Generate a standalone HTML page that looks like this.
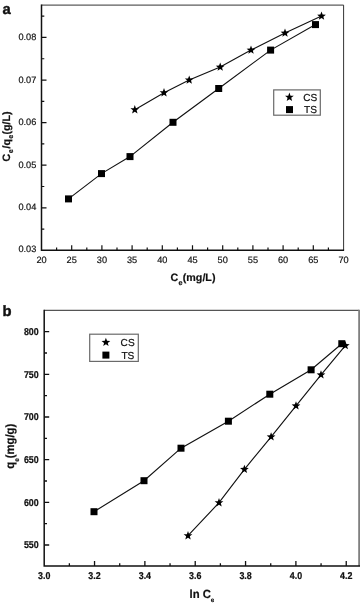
<!DOCTYPE html>
<html><head><meta charset="utf-8"><title>Figure</title>
<style>
html,body{margin:0;padding:0;background:#fff;}
body{width:360px;height:605px;overflow:hidden;}
svg{display:block;text-rendering:geometricPrecision;font-family:"Liberation Sans",Arial,Helvetica,sans-serif;fill:#111;}
.t{font-size:9.2px;fill:#111;stroke:#111;stroke-width:0.18px;}
.tb{font-size:8.9px;font-weight:bold;fill:#111;stroke:#111;stroke-width:0.2px;}
.lg{font-size:10.1px;fill:#111;stroke:#111;stroke-width:0.22px;}
.ax{font-size:10.7px;font-weight:bold;fill:#111;stroke:#111;stroke-width:0.2px;}
.pl{font-size:14.8px;font-weight:bold;fill:#111;stroke:#111;stroke-width:0.4px;}
</style></head><body>
<svg width="360" height="605" viewBox="0 0 360 605">
<rect x="0" y="0" width="360" height="605" fill="#fff"/>

<g stroke="#111" fill="none">
<path d="M41.5,5.1 H343.6 V250.3" stroke-width="1" stroke="#333"/>
<path d="M41.5,4.6 V250.3 H344.1" stroke-width="1.5"/>
<path d="M41.5,229.11h2.8M41.5,207.81h5M41.5,186.52h2.8M41.5,165.22h5M41.5,143.93h2.8M41.5,122.63h5M41.5,101.34h2.8M41.5,80.04h5M41.5,58.75h2.8M41.5,37.45h5M41.5,16.16h2.8M56.60,250.3v-2.8M71.70,250.3v-5M86.80,250.3v-2.8M101.90,250.3v-5M117.00,250.3v-2.8M132.10,250.3v-5M147.20,250.3v-2.8M162.30,250.3v-5M177.40,250.3v-2.8M192.50,250.3v-5M207.60,250.3v-2.8M222.70,250.3v-5M237.80,250.3v-2.8M252.90,250.3v-5M268.00,250.3v-2.8M283.10,250.3v-5M298.20,250.3v-2.8M313.30,250.3v-5M328.40,250.3v-2.8" stroke-width="1.2"/>
</g>
<text class="t" x="36.3" y="252.20" text-anchor="end">0.03</text>
<text class="t" x="36.3" y="209.85" text-anchor="end">0.04</text>
<text class="t" x="36.3" y="167.50" text-anchor="end">0.05</text>
<text class="t" x="36.3" y="125.15" text-anchor="end">0.06</text>
<text class="t" x="36.3" y="82.80" text-anchor="end">0.07</text>
<text class="t" x="36.3" y="40.45" text-anchor="end">0.08</text>
<text class="t" x="41.50" y="263.3" text-anchor="middle">20</text>
<text class="t" x="71.70" y="263.3" text-anchor="middle">25</text>
<text class="t" x="101.90" y="263.3" text-anchor="middle">30</text>
<text class="t" x="132.10" y="263.3" text-anchor="middle">35</text>
<text class="t" x="162.30" y="263.3" text-anchor="middle">40</text>
<text class="t" x="192.50" y="263.3" text-anchor="middle">45</text>
<text class="t" x="222.70" y="263.3" text-anchor="middle">50</text>
<text class="t" x="252.90" y="263.3" text-anchor="middle">55</text>
<text class="t" x="283.10" y="263.3" text-anchor="middle">60</text>
<text class="t" x="313.30" y="263.3" text-anchor="middle">65</text>
<text class="t" x="343.50" y="263.3" text-anchor="middle">70</text>
<g stroke="#111" stroke-width="1.12" fill="none">
<polyline points="68.50,198.90 101.50,173.60 130.00,156.60 173.00,122.30 218.70,88.50 270.60,50.10 315.50,24.60"/>
<polyline points="134.80,109.70 164.00,92.70 189.20,80.00 220.20,67.10 251.00,50.10 285.00,33.10 321.50,16.10"/>
</g>
<g fill="#000">
<rect x="65.00" y="195.40" width="7" height="7"/>
<rect x="98.00" y="170.10" width="7" height="7"/>
<rect x="126.50" y="153.10" width="7" height="7"/>
<rect x="169.50" y="118.80" width="7" height="7"/>
<rect x="215.20" y="85.00" width="7" height="7"/>
<rect x="267.10" y="46.60" width="7" height="7"/>
<rect x="312.00" y="21.10" width="7" height="7"/>
<polygon points="134.80,105.10 135.94,108.14 139.17,108.28 136.64,110.30 137.50,113.42 134.80,111.63 132.10,113.42 132.96,110.30 130.43,108.28 133.66,108.14"/>
<polygon points="164.00,88.10 165.14,91.14 168.37,91.28 165.84,93.30 166.70,96.42 164.00,94.63 161.30,96.42 162.16,93.30 159.63,91.28 162.86,91.14"/>
<polygon points="189.20,75.40 190.34,78.44 193.57,78.58 191.04,80.60 191.90,83.72 189.20,81.93 186.50,83.72 187.36,80.60 184.83,78.58 188.06,78.44"/>
<polygon points="220.20,62.50 221.34,65.54 224.57,65.68 222.04,67.70 222.90,70.82 220.20,69.03 217.50,70.82 218.36,67.70 215.83,65.68 219.06,65.54"/>
<polygon points="251.00,45.50 252.14,48.54 255.37,48.68 252.84,50.70 253.70,53.82 251.00,52.03 248.30,53.82 249.16,50.70 246.63,48.68 249.86,48.54"/>
<polygon points="285.00,28.50 286.14,31.54 289.37,31.68 286.84,33.70 287.70,36.82 285.00,35.03 282.30,36.82 283.16,33.70 280.63,31.68 283.86,31.54"/>
<polygon points="321.50,11.50 322.64,14.54 325.87,14.68 323.34,16.70 324.20,19.82 321.50,18.03 318.80,19.82 319.66,16.70 317.13,14.68 320.36,14.54"/>
</g>
<rect x="273.7" y="89.9" width="46.6" height="25.3" fill="#fff" stroke="#6a6a6a" stroke-width="1.2"/>
<g fill="#000"><polygon points="289.40,92.60 290.54,95.64 293.77,95.78 291.24,97.80 292.10,100.92 289.40,99.13 286.70,100.92 287.56,97.80 285.03,95.78 288.26,95.64"/><rect x="286.00" y="106.10" width="7" height="7"/></g>
<text class="lg" x="303.2" y="101">CS</text>
<text class="lg" x="304" y="113.2">TS</text>
<text class="pl" x="2.6" y="14.2">a</text>
<text class="ax" x="170.6" y="281">C<tspan font-size="7.2" dy="3.6" dx="0.2">e</tspan><tspan dy="-3.6" dx="0.3">(mg/L)</tspan></text>
<text class="ax" transform="translate(9.9,161.4) rotate(-90)">C<tspan font-size="7.2" dy="3.3" dx="0.4">e</tspan><tspan dy="-3.3" dx="0.8">/q</tspan><tspan font-size="7.2" dy="3.3" dx="0.2">e</tspan><tspan dy="-3.3" dx="0.3">(g/L)</tspan></text>
<g stroke="#111" fill="none">
<path d="M44.2,310.3 H359.1" stroke-width="1.3" stroke="#555"/><path d="M359.1,309.7 V566.1" stroke-width="1.8" stroke="#808080"/>
<path d="M44.2,309.7 V566.1 H360.0" stroke-width="1.5"/>
<path d="M44.2,545.02h5M44.2,523.69h2.8M44.2,502.35h5M44.2,481.01h2.8M44.2,459.67h5M44.2,438.34h2.8M44.2,417.00h5M44.2,395.66h2.8M44.2,374.32h5M44.2,352.99h2.8M44.2,331.65h5M69.37,566.1v-2.8M94.54,566.1v-5M119.71,566.1v-2.8M144.88,566.1v-5M170.05,566.1v-2.8M195.22,566.1v-5M220.39,566.1v-2.8M245.56,566.1v-5M270.73,566.1v-2.8M295.90,566.1v-5M321.07,566.1v-2.8M346.24,566.1v-5" stroke-width="1.3"/>
</g>
<text class="tb" transform="translate(38.7,548.42) scale(1,1.12)" text-anchor="end">550</text>
<text class="tb" transform="translate(38.7,505.75) scale(1,1.12)" text-anchor="end">600</text>
<text class="tb" transform="translate(38.7,463.07) scale(1,1.12)" text-anchor="end">650</text>
<text class="tb" transform="translate(38.7,420.40) scale(1,1.12)" text-anchor="end">700</text>
<text class="tb" transform="translate(38.7,377.72) scale(1,1.12)" text-anchor="end">750</text>
<text class="tb" transform="translate(38.7,335.05) scale(1,1.12)" text-anchor="end">800</text>
<text class="tb" transform="translate(44.20,579.4) scale(1,1.12)" text-anchor="middle">3.0</text>
<text class="tb" transform="translate(94.54,579.4) scale(1,1.12)" text-anchor="middle">3.2</text>
<text class="tb" transform="translate(144.88,579.4) scale(1,1.12)" text-anchor="middle">3.4</text>
<text class="tb" transform="translate(195.22,579.4) scale(1,1.12)" text-anchor="middle">3.6</text>
<text class="tb" transform="translate(245.56,579.4) scale(1,1.12)" text-anchor="middle">3.8</text>
<text class="tb" transform="translate(295.90,579.4) scale(1,1.12)" text-anchor="middle">4.0</text>
<text class="tb" transform="translate(346.24,579.4) scale(1,1.12)" text-anchor="middle">4.2</text>
<g stroke="#111" stroke-width="1.12" fill="none">
<polyline points="94.00,511.70 144.00,480.70 181.00,448.20 228.40,421.20 269.80,394.20 311.10,369.80 341.80,343.70"/>
<polyline points="188.00,535.70 219.00,502.70 244.40,469.30 271.10,436.90 296.00,405.80 321.00,374.80 345.30,345.60"/>
</g>
<g fill="#000">
<rect x="90.50" y="508.20" width="7" height="7"/>
<rect x="140.50" y="477.20" width="7" height="7"/>
<rect x="177.50" y="444.70" width="7" height="7"/>
<rect x="224.90" y="417.70" width="7" height="7"/>
<rect x="266.30" y="390.70" width="7" height="7"/>
<rect x="307.60" y="366.30" width="7" height="7"/>
<rect x="338.30" y="340.20" width="7" height="7"/>
<polygon points="188.00,531.10 189.14,534.14 192.37,534.28 189.84,536.30 190.70,539.42 188.00,537.63 185.30,539.42 186.16,536.30 183.63,534.28 186.86,534.14"/>
<polygon points="219.00,498.10 220.14,501.14 223.37,501.28 220.84,503.30 221.70,506.42 219.00,504.63 216.30,506.42 217.16,503.30 214.63,501.28 217.86,501.14"/>
<polygon points="244.40,464.70 245.54,467.74 248.77,467.88 246.24,469.90 247.10,473.02 244.40,471.23 241.70,473.02 242.56,469.90 240.03,467.88 243.26,467.74"/>
<polygon points="271.10,432.30 272.24,435.34 275.47,435.48 272.94,437.50 273.80,440.62 271.10,438.83 268.40,440.62 269.26,437.50 266.73,435.48 269.96,435.34"/>
<polygon points="296.00,401.20 297.14,404.24 300.37,404.38 297.84,406.40 298.70,409.52 296.00,407.73 293.30,409.52 294.16,406.40 291.63,404.38 294.86,404.24"/>
<polygon points="321.00,370.20 322.14,373.24 325.37,373.38 322.84,375.40 323.70,378.52 321.00,376.73 318.30,378.52 319.16,375.40 316.63,373.38 319.86,373.24"/>
<polygon points="345.30,341.00 346.44,344.04 349.67,344.18 347.14,346.20 348.00,349.32 345.30,347.53 342.60,349.32 343.46,346.20 340.93,344.18 344.16,344.04"/>
</g>
<rect x="89.7" y="334.2" width="48.6" height="27.2" fill="#fff" stroke="#6a6a6a" stroke-width="1.2"/>
<g fill="#000"><polygon points="105.90,337.80 107.04,340.84 110.27,340.98 107.74,343.00 108.60,346.12 105.90,344.33 103.20,346.12 104.06,343.00 101.53,340.98 104.76,340.84"/><rect x="102.40" y="351.60" width="7" height="7"/></g>
<text class="lg" x="120.6" y="346">CS</text>
<text class="lg" x="121.4" y="359">TS</text>
<text class="pl" x="2.4" y="315.8">b</text>
<text class="ax" style="font-size:11.3px" transform="translate(189.6,597.6) scale(1,1.05)">ln C<tspan font-size="6.2" dy="4.5" dx="-0.2">e</tspan></text>
<text class="ax" style="font-size:11.3px" transform="translate(14.2,468.7) rotate(-90) scale(1,1.06)">q<tspan font-size="6.3" dy="4.5">e</tspan><tspan dy="-4.5">(mg/g)</tspan></text>
</svg></body></html>
